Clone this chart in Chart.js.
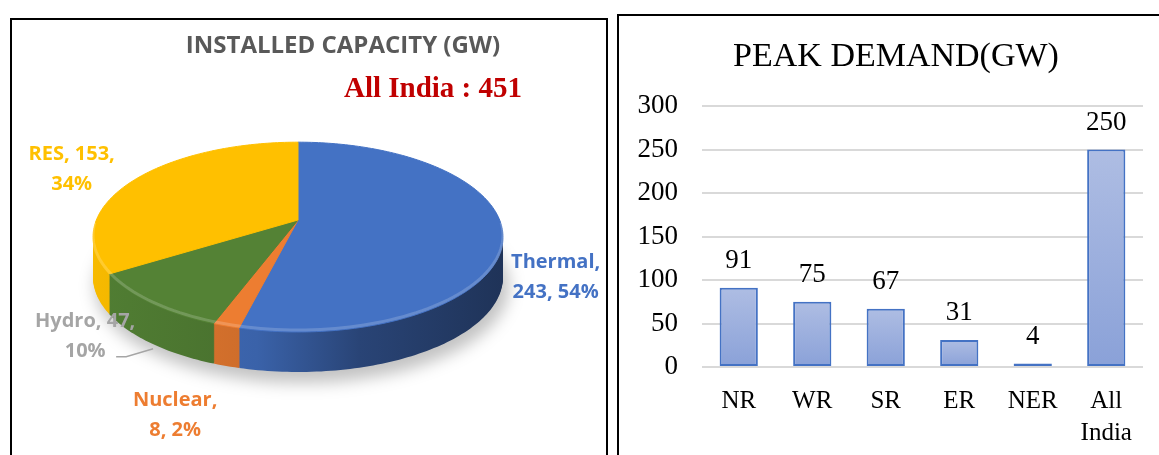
<!DOCTYPE html>
<html>
<head>
<meta charset="utf-8">
<script src="https://cdn.jsdelivr.net/npm/chart.js@4.4.0/dist/chart.umd.min.js"></script>
<style>
  body { margin: 0; background: #fff; width: 1159px; height: 455px; overflow: hidden; position: relative; }
  .panel { position: absolute; border: 2px solid #000; box-sizing: border-box; background: #fff; }
  #left { left: 10px; top: 18px; width: 598px; height: 460px; }
  #right { left: 617px; top: 14px; width: 570px; height: 460px; }
  canvas { position: absolute; left: 0; top: 0; }
</style>
</head>
<body>
<div class="panel" id="left"><canvas id="pie" width="594" height="435"></canvas></div>
<div class="panel" id="right"><canvas id="bar" width="552" height="439"></canvas></div>

<script>
// installed capacity (GW)
const sources = ['Thermal', 'Nuclear', 'Hydro', 'RES'];
const capacity = [243, 8, 47, 153];

// peak demand (GW)
const regions = ['NR', 'WR', 'SR', 'ER', 'NER', ['All', 'India']];
const peakDemand = [91, 75, 67, 31, 4, 250];
const yMax = 300;
const yStep = 50;

const sliceColors = ['#4472C4', '#ED7D31', '#548235', '#FFC000'];
const labelColors = ['#4472C4', '#ED7D31', '#A5A5A5', '#FFC000'];

const total = capacity.reduce((s, v) => s + v, 0);

// 3d look of the pie
const tilt = 0.463;      // vertical squash of the disc
const persp = 0.18;      // perspective, front edge closer to the viewer
const depth = 40;
const apexY = 200;       // where the slices meet, canvas px
// label block offset from the slice middle on the rim, and how many parts go on line 1
const labelOffsets = [[53, 46], [-51, 89], [-65, 33], [-64, -10]];
const firstLineParts = [1, 1, 2, 2];

function shade(hex, f) {
  const n = parseInt(hex.slice(1), 16);
  const r = Math.round(((n >> 16) & 255) * f);
  const g = Math.round(((n >> 8) & 255) * f);
  const b = Math.round((n & 255) * f);
  return 'rgb(' + r + ',' + g + ',' + b + ')';
}

// point on the rim of the tilted disc for a chart.js arc angle
function rim(a, ang) {
  const sx = a.outerRadius * Math.sqrt(1 - persp * persp);
  const sy = a.outerRadius * tilt * (1 - persp * persp);
  const u = Math.cos(ang), v = Math.sin(ang), w = 1 - persp * v;
  return [a.x + sx * u / w, apexY + sy * v / w];
}

function slicePath(ctx, a, dy) {
  ctx.beginPath();
  ctx.moveTo(a.x, apexY + dy);
  const span = a.endAngle - a.startAngle;
  const steps = Math.max(2, Math.ceil(span / 0.02));
  for (let s = 0; s <= steps; s++) {
    const p = rim(a, a.startAngle + span * s / steps);
    ctx.lineTo(p[0], p[1] + dy);
  }
  ctx.closePath();
}

const pie3d = {
  id: 'pie3d',
  beforeDatasetsDraw(chart) {
    const ctx = chart.ctx;
    const arcs = chart.getDatasetMeta(0).data;
    const a0 = arcs[0];
    const cx = a0.x, r = a0.outerRadius;
    const midY = (rim(a0, -Math.PI / 2)[1] + rim(a0, Math.PI / 2)[1]) / 2;

    // soft shadow under the pie
    ctx.save();
    ctx.filter = 'blur(8px)';
    ctx.fillStyle = 'rgba(0,0,0,0.24)';
    ctx.beginPath();
    ctx.ellipse(cx + 4, midY + depth + 9, r + 2, r * tilt + 2, 0, 0, Math.PI * 2);
    ctx.fill();
    ctx.restore();

    const sides = sliceColors.map(c => {
      const g = ctx.createLinearGradient(cx - r, 0, cx + r, 0);
      g.addColorStop(0, shade(c, 0.97));
      g.addColorStop(0.4, shade(c, 0.86));
      g.addColorStop(0.65, shade(c, 0.6));
      g.addColorStop(1, shade(c, 0.45));
      return g;
    });

    ctx.save();
    for (let d = depth; d > 0; d--) {
      arcs.forEach((a, i) => {
        slicePath(ctx, a, d);
        ctx.fillStyle = sides[i];
        ctx.fill();
      });
    }
    // top face
    arcs.forEach((a, i) => {
      slicePath(ctx, a, 0);
      ctx.fillStyle = sliceColors[i];
      ctx.strokeStyle = sliceColors[i];
      ctx.lineWidth = 1;
      ctx.fill();
      ctx.stroke();
    });
    // light rim on the front edge of the top face
    ctx.beginPath();
    for (let s = 0; s <= 100; s++) {
      const p = rim(a0, 0.05 + (Math.PI - 0.1) * s / 100);
      if (s === 0) ctx.moveTo(p[0], p[1] - 2); else ctx.lineTo(p[0], p[1] - 2);
    }
    ctx.strokeStyle = 'rgba(255,255,255,0.18)';
    ctx.lineWidth = 3;
    ctx.stroke();
    ctx.restore();
    return false;
  },
  afterDraw(chart) {
    const ctx = chart.ctx;
    const arcs = chart.getDatasetMeta(0).data;
    ctx.save();
    ctx.textAlign = 'center';
    ctx.textBaseline = 'middle';

    ctx.fillStyle = '#595959';
    ctx.font = 'bold 24px "Open Sans"';
    ctx.fillText('INSTALLED CAPACITY (GW)', 331, 26);

    ctx.fillStyle = '#C00000';
    ctx.font = 'bold 29px "Liberation Serif"';
    ctx.fillText('All India : ' + total, 421, 70);

    ctx.font = 'bold 20px "Open Sans"';
    arcs.forEach((a, i) => {
      const [ex, ey] = rim(a, (a.startAngle + a.endAngle) / 2);
      const parts = [sources[i], String(capacity[i]), Math.round(capacity[i] / total * 100) + '%'];
      const n = firstLineParts[i];
      const line1 = parts.slice(0, n).join(', ') + ',';
      const line2 = parts.slice(n).join(', ');
      const lx = ex + labelOffsets[i][0];
      const ly = ey + labelOffsets[i][1];
      ctx.fillStyle = labelColors[i];
      ctx.fillText(line1, lx, ly - 15);
      ctx.fillText(line2, lx, ly + 15);
      if (sources[i] === 'Hydro') {
        ctx.strokeStyle = '#A5A5A5';
        ctx.lineWidth = 1.5;
        ctx.beginPath();
        ctx.moveTo(ex - 34, ey + 54);
        ctx.lineTo(ex - 24, ey + 54);
        ctx.lineTo(ex + 3, ey + 46);
        ctx.stroke();
      }
    });
    ctx.restore();
  }
};

new Chart(document.getElementById('pie'), {
  type: 'pie',
  data: {
    labels: sources,
    datasets: [{
      data: capacity,
      backgroundColor: sliceColors,
      borderWidth: 0,
      radius: 205,
      clip: false
    }]
  },
  options: {
    responsive: false,
    animation: false,
    layout: { padding: { right: 22 } },
    plugins: { legend: { display: false }, tooltip: { enabled: false } }
  },
  plugins: [pie3d]
});

const barLabels = {
  id: 'barLabels',
  afterDatasetsDraw(chart) {
    const ctx = chart.ctx;
    ctx.save();
    ctx.fillStyle = '#000';
    ctx.font = '27px "Liberation Serif"';
    ctx.textAlign = 'center';
    ctx.textBaseline = 'middle';
    chart.getDatasetMeta(0).data.forEach((bar, i) => {
      ctx.fillText(String(peakDemand[i]), bar.x, bar.y - 27);
    });
    // chart title, a little right of the canvas middle like the original
    ctx.font = '34px "Liberation Serif"';
    ctx.fillText('PEAK DEMAND(GW)', 277, 41);
    ctx.restore();
  }
};

new Chart(document.getElementById('bar'), {
  type: 'bar',
  data: {
    labels: regions,
    datasets: [{
      data: peakDemand,
      backgroundColor: (c) => {
        const chart = c.chart;
        if (!chart.chartArea || c.type !== 'data') return '#9eb0dd';
        const y = chart.scales.y;
        const top = y.getPixelForValue(c.raw);
        const base = y.getPixelForValue(0);
        const g = chart.ctx.createLinearGradient(0, top, 0, base);
        g.addColorStop(0, '#aebde3');
        g.addColorStop(1, '#8aa1d8');
        return g;
      },
      borderColor: '#4472C4',
      borderWidth: 2,
      borderSkipped: false,
      barPercentage: 0.52,
      categoryPercentage: 1
    }]
  },
  options: {
    responsive: false,
    animation: false,
    layout: { padding: { left: 0, right: 28, top: 90, bottom: 0 } },
    plugins: {
      legend: { display: false },
      tooltip: { enabled: false },
      title: { display: false }
    },
    scales: {
      x: {
        afterFit: (s) => { s.height = 88; },
        grid: { display: false, drawTicks: false },
        border: { display: false },
        ticks: { color: '#000', font: { family: 'Liberation Serif', size: 25, lineHeight: 1.28 }, padding: 18 }
      },
      y: {
        min: 0,
        max: yMax,
        afterFit: (s) => { s.width = 83; },
        grid: { color: '#d9d9d9', lineWidth: 2, drawTicks: false },
        border: { display: false },
        ticks: { stepSize: yStep, color: '#000', font: { family: 'Liberation Serif', size: 27 }, padding: 24 }
      }
    }
  },
  plugins: [barLabels]
});
</script>
</body>
</html>
